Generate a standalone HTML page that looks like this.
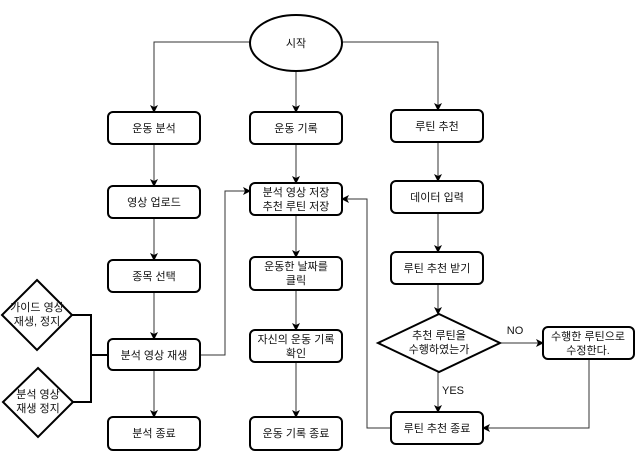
<!DOCTYPE html>
<html><head><meta charset="utf-8"><style>
body{margin:0;background:#fff}
text{font-family:"Liberation Sans","Noto Sans CJK KR",sans-serif;font-size:11px;fill:#111;text-anchor:middle}
</style></head><body>
<svg width="643" height="465" viewBox="0 0 643 465" xmlns="http://www.w3.org/2000/svg">
<defs><marker id="a" markerWidth="8" markerHeight="8" refX="7" refY="4" orient="auto" markerUnits="userSpaceOnUse"><path d="M0,0 L8,4 L0,8 L2,4 z" fill="#000"/></marker></defs>
<g fill="none" stroke="#333" stroke-width="1">
<path d="M250,42 H154 V112" marker-end="url(#a)"/>
<path d="M342,42 H438 V110" marker-end="url(#a)"/>
<path d="M296,70 V112" marker-end="url(#a)"/>
<path d="M154,144 V186" marker-end="url(#a)"/>
<path d="M154,218 V260" marker-end="url(#a)"/>
<path d="M154,292 V339" marker-end="url(#a)"/>
<path d="M154,370 V417" marker-end="url(#a)"/>
<path d="M296,144 V183" marker-end="url(#a)"/>
<path d="M296,215 V257" marker-end="url(#a)"/>
<path d="M296,290 V330" marker-end="url(#a)"/>
<path d="M296,362 V417" marker-end="url(#a)"/>
<path d="M438,142 V181" marker-end="url(#a)"/>
<path d="M438,213 V252" marker-end="url(#a)"/>
<path d="M438,284 V314" marker-end="url(#a)"/>
<path d="M438,371 V412" marker-end="url(#a)"/>
<path d="M500,343 H543" marker-end="url(#a)"/>
<path d="M589,359 V428 H483" marker-end="url(#a)"/>
<path d="M392,428 H367 V199 H342" marker-end="url(#a)"/>
<path d="M200,355 H225 V191 H250" marker-end="url(#a)"/>
</g>
<g fill="none" stroke="#000" stroke-width="2">
<path d="M72,315 H91 V402 H73"/>
<path d="M91,355 H108"/>
</g>
<g fill="#fff" stroke="#000" stroke-width="2">
<ellipse cx="296" cy="43" rx="46" ry="28"/>
<rect x="108" y="112" width="92" height="32" rx="5"/>
<rect x="250" y="112" width="92" height="32" rx="5"/>
<rect x="391" y="110" width="92" height="32" rx="5"/>
<rect x="108" y="186" width="92" height="32" rx="5"/>
<rect x="250" y="183" width="92" height="32" rx="5"/>
<rect x="391" y="181" width="92" height="32" rx="5"/>
<rect x="108" y="260" width="92" height="32" rx="5"/>
<rect x="250" y="257" width="92" height="33" rx="5"/>
<rect x="391" y="252" width="92" height="32" rx="5"/>
<rect x="108" y="339" width="92" height="31" rx="5"/>
<rect x="250" y="330" width="92" height="32" rx="5"/>
<path d="M439,314 L500,343 L439,372 L378,343 Z"/>
<rect x="543" y="327" width="91" height="32" rx="5"/>
<rect x="108" y="417" width="92" height="33" rx="5"/>
<rect x="250" y="417" width="92" height="33" rx="5"/>
<rect x="391" y="412" width="92" height="32" rx="5"/>
<path d="M37,280 L72,315 L37,350 L2,315 Z"/>
<path d="M38,368 L73,402 L38,437 L3,402 Z"/>
</g>
<text x="296" y="47">시작</text>
<text x="154" y="132">운동 분석</text>
<text x="296" y="132">운동 기록</text>
<text x="437" y="130">루틴 추천</text>
<text x="154" y="206">영상 업로드</text>
<text x="296" y="196">분석 영상 저장</text>
<text x="296" y="210">추천 루틴 저장</text>
<text x="437" y="201">데이터 입력</text>
<text x="154" y="280">종목 선택</text>
<text x="296" y="270">운동한 날짜를</text>
<text x="296" y="284">클릭</text>
<text x="437" y="272">루틴 추천 받기</text>
<text x="154" y="359">분석 영상 재생</text>
<text x="296" y="343">자신의 운동 기록</text>
<text x="296" y="357">확인</text>
<text x="439" y="339">추천 루틴을</text>
<text x="439" y="353">수행하였는가</text>
<text x="588" y="340">수행한 루틴으로</text>
<text x="588" y="354">수정한다.</text>
<text x="515" y="334">NO</text>
<text x="453" y="394">YES</text>
<text x="154" y="437">분석 종료</text>
<text x="296" y="437">운동 기록 종료</text>
<text x="437" y="432">루틴 추천 종료</text>
<text x="37" y="311">가이드 영상</text>
<text x="37" y="325">재생, 정지</text>
<text x="38" y="398">분석 영상</text>
<text x="38" y="412">재생 정지</text>
</svg>
</body></html>
